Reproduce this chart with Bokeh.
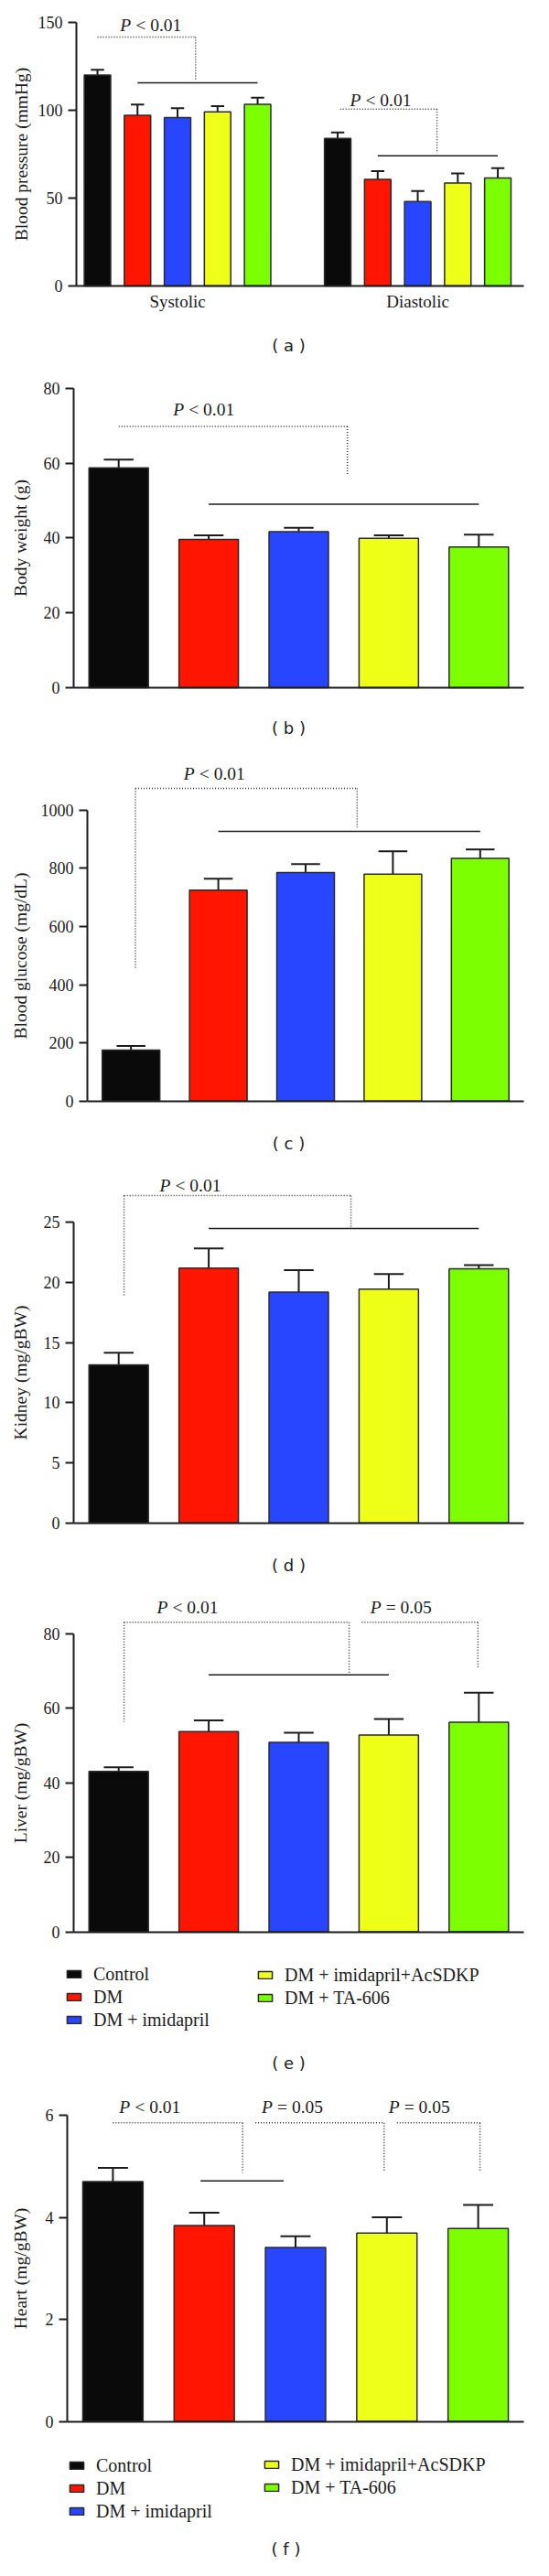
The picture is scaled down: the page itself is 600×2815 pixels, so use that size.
from bokeh.plotting import figure
from bokeh.layouts import column
from bokeh.models import ColumnDataSource, FixedTicker, Label, Legend, LegendItem, Range1d
from bokeh.core.properties import value
from bokeh.embed import file_html
from bokeh.resources import INLINE

# ---------------- data ----------------
groups = ["Control", "DM", "DM + imidapril", "DM + imidapril+AcSDKP", "DM + TA-606"]
colors = ["#0a0a0a", "#ff1500", "#2846ff", "#eeff18", "#7cff00"]

bp_categories = ["Systolic", "Diastolic"]
bp_systolic = [120.0, 97.2, 95.8, 99.1, 103.4]
bp_systolic_err = [3.0, 6.0, 5.4, 3.3, 3.7]
bp_diastolic = [84.0, 60.7, 48.1, 58.6, 61.5]
bp_diastolic_err = [3.4, 4.7, 6.0, 5.4, 5.6]

body_weight = [58.7, 39.6, 41.7, 39.9, 37.6]
body_weight_err = [2.2, 1.1, 1.0, 0.8, 3.3]

glucose = [175, 725, 785, 780, 834]
glucose_err = [14, 39, 29, 78, 31]

kidney = [13.15, 21.19, 19.19, 19.44, 21.14]
kidney_err = [1.0, 1.65, 1.83, 1.27, 0.3]

liver = [43.0, 53.7, 50.8, 52.75, 56.2]
liver_err = [1.1, 3.0, 2.6, 4.3, 7.9]

heart = [4.70, 3.84, 3.41, 3.69, 3.78]
heart_err = [0.27, 0.25, 0.22, 0.31, 0.46]

ticks_a = [0, 50, 100, 150]
ticks_b = [0, 20, 40, 60, 80]
ticks_c = [0, 200, 400, 600, 800, 1000]
ticks_d = [0, 5, 10, 15, 20, 25]
ticks_e = [0, 20, 40, 60, 80]
ticks_f = [0, 2, 4, 6]

# significance brackets: (relation, p, x, y) and line segments (x0, y0, x1, y1)
sig_a_text = [("<", "0.01", 1.32, 148.4), ("<", "0.01", 7.06, 105.6)]
sig_a_dot = [(0, 141.7, 2.45, 141.7), (2.45, 141.7, 2.45, 117.3),
             (6.06, 100.7, 8.48, 100.7), (8.48, 100.7, 8.48, 75.5)]
sig_a_solid = [(1, 115.6, 4, 115.6), (7, 74.1, 10, 74.1)]

sig_b_text = [("<", "0.01", 0.94, 74.3)]
sig_b_dot = [(0, 69.8, 2.54, 69.8), (2.54, 69.8, 2.54, 56.8)]
sig_b_solid = [(1, 49.0, 4, 49.0)]

sig_c_text = [("<", "0.01", 0.95, 1126)]
sig_c_dot = [(0.05, 1074.5, 2.59, 1074.5), (0.05, 1074.5, 0.05, 453), (2.59, 1074.5, 2.59, 940)]
sig_c_solid = [(1, 926.7, 4, 926.7)]

sig_d_text = [("<", "0.01", 0.79, 28.09)]
sig_d_dot = [(0.06, 27.23, 2.58, 27.23), (0.06, 27.23, 0.06, 18.91), (2.58, 27.23, 2.58, 24.57)]
sig_d_solid = [(1, 24.49, 4, 24.49)]

sig_e_text = [("<", "0.01", 0.76, 87.0), ("=", "0.05", 3.13, 87.0)]
sig_e_dot = [(0.06, 83, 2.56, 83), (0.06, 83, 0.06, 56.3), (2.56, 83, 2.56, 69.5),
             (2.70, 83, 3.99, 83), (3.99, 83, 3.99, 70.5)]
sig_e_solid = [(1, 68.9, 3, 68.9)]

sig_f_text = [("<", "0.01", 0.40, 6.17), ("=", "0.05", 1.96, 6.17), ("=", "0.05", 3.35, 6.17)]
sig_f_dot = [(0, 5.85, 1.42, 5.85), (1.42, 5.85, 1.42, 4.875),
             (1.56, 5.85, 2.97, 5.85), (2.97, 5.85, 2.97, 4.92),
             (3.11, 5.85, 4.02, 5.85), (4.02, 5.85, 4.02, 4.92)]
sig_f_solid = [(0.96, 4.714, 1.87, 4.714)]

SERIF = "Liberation Serif"
SANS = "DejaVu Sans"
INK = "#1c1c1c"
BAR_W = 0.66
PAGE_L, PAGE_R = 8, 592     # page x covered by each figure
AXIS_END = 580              # page x where every x axis ends


def base_fig(fig_top, fig_bottom, zero_y, top_y, axis_x, x_lo, x_hi,
             ticks, ylabel, label_standoff):
    """fig_top/bottom, zero_y, top_y, axis_x are page pixel positions."""
    ppx = (AXIS_END - axis_x) / (x_hi - x_lo)
    ppy = (zero_y - top_y) / ticks[-1]
    xr = Range1d(x_lo - (axis_x - PAGE_L) / ppx, x_hi + (PAGE_R - AXIS_END) / ppx)
    yr = Range1d(-(fig_bottom - zero_y) / ppy, (zero_y - fig_top) / ppy)
    p = figure(width=PAGE_R - PAGE_L, height=fig_bottom - fig_top,
               output_backend="svg", toolbar_location=None, x_range=xr, y_range=yr,
               min_border=0, min_border_left=0, min_border_right=0,
               min_border_top=0, min_border_bottom=0)
    p.title.visible = False
    p.outline_line_color = None
    p.xgrid.visible = False
    p.ygrid.visible = False
    p.background_fill_color = "white"
    p.border_fill_color = "white"
    ya = p.yaxis[0]
    ya.fixed_location = x_lo
    ya.ticker = FixedTicker(ticks=ticks)
    ya.bounds = (0, ticks[-1])
    ya.axis_line_width = 2
    ya.axis_line_color = INK
    ya.major_tick_line_width = 2
    ya.major_tick_line_color = INK
    ya.major_tick_out = 9
    ya.major_tick_in = 0
    ya.minor_tick_line_color = None
    ya.major_label_standoff = 6
    ya.major_label_text_font = SERIF
    ya.major_label_text_font_size = "18px"
    ya.major_label_text_color = INK
    ya.axis_label = ylabel
    ya.axis_label_text_font = SERIF
    ya.axis_label_text_font_style = "normal"
    ya.axis_label_text_font_size = "19.5px"
    ya.axis_label_text_color = INK
    ya.axis_label_standoff = label_standoff
    xa = p.xaxis[0]
    xa.fixed_location = 0
    xa.bounds = (x_lo, x_hi)
    xa.ticker = FixedTicker(ticks=[])
    xa.axis_line_width = 2
    xa.axis_line_color = INK
    xa.major_tick_out = 0
    xa.major_tick_in = 0
    xa.minor_tick_line_color = None
    return p, ppx, ppy


def draw_bars(p, xs, vals, errs, cols):
    src = ColumnDataSource(dict(
        x=xs, top=vals, etop=[v + e for v, e in zip(vals, errs)],
        cl=[x - BAR_W / 4 for x in xs], cr=[x + BAR_W / 4 for x in xs], color=cols))
    p.segment(x0="x", y0="top", x1="x", y1="etop", source=src, line_color=INK, line_width=2)
    p.segment(x0="cl", y0="etop", x1="cr", y1="etop", source=src, line_color=INK, line_width=2)
    r = p.vbar(x="x", top="top", width=BAR_W, source=src, fill_color="color",
               line_color="#2a2a2a", line_width=1.5)
    return r


def draw_sig(p, texts, dots, solids):
    if dots:
        p.segment(x0=[d[0] for d in dots], y0=[d[1] for d in dots],
                  x1=[d[2] for d in dots], y1=[d[3] for d in dots],
                  line_color="#333333", line_width=1.5, line_dash="1 2")
    if solids:
        p.segment(x0=[s[0] for s in solids], y0=[s[1] for s in solids],
                  x1=[s[2] for s in solids], y1=[s[3] for s in solids],
                  line_color=INK, line_width=1.6)
    xs = [t[2] for t in texts]
    ys = [t[3] for t in texts]
    p.text(x=xs, y=ys, text=["P"] * len(texts), text_font=value(SERIF),
           text_font_style="italic", text_font_size="19.5px", text_color=INK,
           text_align="left", text_baseline="middle", x_offset=-33)
    p.text(x=xs, y=ys, text=[f"{t[0]} {t[1]}" for t in texts], text_font=value(SERIF),
           text_font_size="19.5px", text_color=INK,
           text_align="left", text_baseline="middle", x_offset=-16)


def panel_label(p, zero_y, ppx, ppy, bar0_x, label_x, label_y, txt):
    p.add_layout(Label(x=(label_x - bar0_x) / ppx, y=(zero_y - label_y) / ppy, text=txt,
                       text_font=SANS, text_font_size="18px", text_color=INK,
                       text_align="center", text_baseline="middle"))


def add_legends(p, r, fig_bottom, left_xy, right_xy):
    """left_xy/right_xy: page (x of swatch left edge, y of legend bottom)."""
    items_l = [LegendItem(label=groups[i], renderers=[r], index=i) for i in range(3)]
    items_r = [LegendItem(label=groups[i], renderers=[r], index=i) for i in range(3, 5)]
    for items, (lx, ly) in ((items_l, left_xy), (items_r, right_xy)):
        lg = Legend(items=items, location=(lx - PAGE_L, fig_bottom - ly),
                    orientation="vertical",
                    padding=0, margin=0, spacing=0, border_line_color=None,
                    background_fill_alpha=0, glyph_width=19, glyph_height=10,
                    label_height=25, label_standoff=12,
                    label_text_font=SERIF, label_text_font_size="20px",
                    label_text_color=INK)
        p.add_layout(lg, "center")


five = [0, 1, 2, 3, 4]
X5 = (-0.5, 4.5)

# (a) blood pressure
pa, ax_, ay_ = base_fig(8, 400, 320, 32, 91, -0.526, 10.65, ticks_a, "Blood pressure (mmHg)", 5)
xa = pa.xaxis[0]
xa.ticker = FixedTicker(ticks=[2, 8])
xa.major_label_overrides = {2: bp_categories[0], 8: bp_categories[1]}
xa.major_label_text_font = SERIF
xa.major_label_text_font_size = "19px"
xa.major_label_text_color = INK
xa.major_label_standoff = 6
draw_bars(pa, five + [6, 7, 8, 9, 10], bp_systolic + bp_diastolic,
          bp_systolic_err + bp_diastolic_err, colors + colors)
draw_sig(pa, sig_a_text, sig_a_dot, sig_a_solid)
panel_label(pa, 320, ax_, ay_, 114, 323, 385, "( a )")

# (b) body weight
pb, bx_, by_ = base_fig(400, 830, 759, 431.7, 88, *X5, ticks_b, "Body weight (g)", 12)
draw_bars(pb, five, body_weight, body_weight_err, colors)
draw_sig(pb, sig_b_text, sig_b_dot, sig_b_solid)
panel_label(pb, 759, bx_, by_, 137.2, 323, 803, "( b )")

# (c) blood glucose
pc, cx_, cy_ = base_fig(830, 1280, 1210.7, 892.7, 103, *X5, ticks_c, "Blood glucose (mg/dL)", 9)
draw_bars(pc, five, glucose, glucose_err, colors)
draw_sig(pc, sig_c_text, sig_c_dot, sig_c_solid)
panel_label(pc, 1210.7, cx_, cy_, 150.7, 323, 1257, "( c )")

# (d) kidney
pd_, dx_, dy_ = base_fig(1280, 1740, 1671.7, 1343.3, 88, *X5, ticks_d, "Kidney (mg/gBW)", 12)
draw_bars(pd_, five, kidney, kidney_err, colors)
draw_sig(pd_, sig_d_text, sig_d_dot, sig_d_solid)
panel_label(pd_, 1671.7, dx_, dy_, 137.2, 323, 1718, "( d )")

# (e) liver
pe, ex_, ey_ = base_fig(1740, 2285, 2118.6, 1792.5, 88, *X5, ticks_e, "Liver (mg/gBW)", 12)
re_ = draw_bars(pe, five, liver, liver_err, colors)
draw_sig(pe, sig_e_text, sig_e_dot, sig_e_solid)
panel_label(pe, 2118.6, ex_, ey_, 137.2, 323, 2262, "( e )")
add_legends(pe, re_, 2285, (79, 2227.5), (288, 2203.5))

# (f) heart
pf, fx_, fy_ = base_fig(2285, 2807, 2653.5, 2319, 81, *X5, ticks_f, "Heart (mg/gBW)", 14)
rf = draw_bars(pf, five, heart, heart_err, colors)
draw_sig(pf, sig_f_text, sig_f_dot, sig_f_solid)
panel_label(pf, 2653.5, fx_, fy_, 130.9, 320, 2793, "( f )")
add_legends(pf, rf, 2807, (82, 2764.5), (295, 2738.5))

layout = column(pa, pb, pc, pd_, pe, pf, spacing=0)
open("out.html", "w").write(file_html(layout, INLINE))
